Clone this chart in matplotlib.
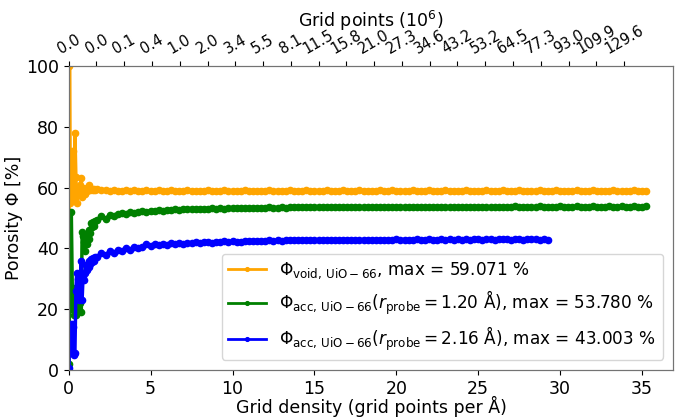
import numpy as np
import matplotlib
matplotlib.use("Agg")
import matplotlib.pyplot as plt

# grid density values (grid points per Å)
x_early = [0.02, 0.05, 0.10, 0.16, 0.22, 0.27, 0.33, 0.38, 0.44, 0.49,
           0.55, 0.60, 0.66, 0.71, 0.77, 0.82, 0.88, 0.93, 0.99, 1.04,
           1.10, 1.15, 1.21, 1.26, 1.32, 1.37, 1.43, 1.48, 1.54, 1.59]
x_late = np.arange(1.75, 35.3, 0.25)

void_early = [25, 100, 55, 72, 60, 72, 56, 78, 63.5, 55,
              60, 58, 57.5, 61, 63, 57, 60, 59.5, 58, 59.5,
              59, 60.2, 60.7, 59.8, 59.3, 59.6, 59.4, 59.2, 59.4, 59.1]
void_late = [59.6, 59.1, 59.3, 58.8, 59.2, 59.0, 58.9, 59.2, 59.0, 59.1,
             58.9, 59.0, 59.1, 58.8, 59.0, 59.1, 59.0, 58.9, 59.1, 59.0,
             59.0, 58.9, 59.1, 59.0, 59.0, 58.9, 59.0, 59.1, 59.0, 59.0,
             59.0, 59.1, 59.0, 58.9, 59.0, 59.0, 59.1, 59.0, 59.0, 59.0,
             59.0, 59.0, 59.1, 59.0, 59.0, 59.0, 59.0, 59.1, 59.0, 59.0,
             59.0, 59.1, 59.0, 59.0, 59.0, 59.0, 59.1, 59.0, 59.0, 59.0,
             59.1, 59.0, 59.0, 59.0, 59.1, 59.0, 59.0, 59.0, 59.0, 59.1,
             59.0, 59.0, 59.1, 59.0, 59.0, 59.0, 59.0, 59.1, 59.0, 59.0,
             59.0, 59.1, 59.0, 59.0, 59.0, 59.1, 59.0, 59.0, 59.0, 59.0,
             59.1, 59.0, 59.0, 59.0, 59.0, 59.1, 59.0, 59.0, 59.0, 59.1,
             59.0, 59.0, 59.0, 59.1, 59.0, 59.0, 59.0, 59.0, 59.1, 59.0,
             59.0, 59.0, 59.1, 59.0, 59.0, 59.0, 59.0, 59.1, 59.0, 59.0,
             59.0, 59.1, 59.0, 59.0, 59.0, 59.0, 59.1, 59.0, 59.0, 59.0,
             59.0, 59.1, 59.0, 59.0, 59.0]

acc12_early = [2, 25, 20, 52, 27, 20, 18, 27, 18, 22,
               20, 25, 19.5, 22, 19, 45.5, 44, 42, 39, 43.8,
               41.5, 45, 43, 46, 45, 48.5, 47, 48.7, 47.5, 49]
acc12_late = [49.5, 50.6, 49.8, 51.0, 50.6, 51.4, 51.8, 51.3, 52.0, 51.7,
              52.0, 52.3, 51.9, 52.4, 52.2, 52.6, 52.4, 52.7, 52.6, 52.8,
              52.7, 52.9, 52.8, 53.0, 52.9, 53.1, 53.0, 53.0, 53.2, 53.1,
              53.2, 53.1, 53.3, 53.2, 53.3, 53.2, 53.4, 53.3, 53.3, 53.4,
              53.3, 53.4, 53.5, 53.4, 53.4, 53.5, 53.4, 53.5, 53.5, 53.5,
              53.5, 53.6, 53.5, 53.5, 53.6, 53.5, 53.6, 53.6, 53.5, 53.6,
              53.6, 53.5, 53.6, 53.6, 53.6, 53.7, 53.6, 53.6, 53.6, 53.6,
              53.6, 53.7, 53.6, 53.6, 53.7, 53.6, 53.6, 53.7, 53.6, 53.7,
              53.7, 53.6, 53.7, 53.7, 53.6, 53.7, 53.7, 53.7, 53.6, 53.7,
              53.7, 53.7, 53.7, 53.6, 53.7, 53.7, 53.7, 53.7, 53.7, 53.7,
              53.7, 53.7, 53.8, 53.7, 53.7, 53.7, 53.7, 53.7, 53.8, 53.7,
              53.7, 53.7, 53.7, 53.8, 53.7, 53.7, 53.7, 53.8, 53.7, 53.7,
              53.7, 53.8, 53.7, 53.7, 53.7, 53.8, 53.7, 53.7, 53.8, 53.7,
              53.7, 53.8, 53.7, 53.7, 53.8]

acc216_early = [0.5, 13, 15, 5.5, 15, 14, 5, 5.5, 26, 32,
                30, 23, 29, 31, 36, 23, 31, 29.5, 32, 34.5,
                33, 35, 34, 36, 35, 36.5, 35.5, 36.7, 36, 37]
acc216_late = [37.3, 38.5, 37.9, 39.0, 38.6, 39.5, 39.0, 40.0, 39.6, 40.3,
               40.1, 40.6, 41.4, 40.8, 41.6, 41.0, 41.4, 41.2, 41.7, 41.4,
               41.8, 41.5, 41.9, 41.7, 42.1, 41.8, 42.0, 42.2, 41.9, 42.2,
               42.0, 42.3, 42.1, 42.4, 42.2, 42.0, 42.4, 42.3, 42.5, 42.3,
               42.5, 42.4, 42.6, 42.5, 42.7, 42.4, 42.6, 42.7, 42.6, 42.8,
               42.6, 42.7, 42.8, 42.7, 42.8, 42.6, 42.8, 42.7, 42.9, 42.8,
               42.8, 42.9, 42.8, 42.9, 42.8, 42.9, 42.9, 42.8, 42.9, 42.9,
               42.9, 42.8, 42.9, 43.0, 42.9, 42.9, 42.8, 42.9, 43.0, 42.9,
               42.9, 43.0, 42.9, 42.9, 43.0, 42.9, 43.0, 42.9, 43.0, 42.9,
               43.0, 42.9, 43.0, 43.0, 42.9, 43.0, 43.0, 42.9, 43.0, 43.0,
               43.0, 42.9, 43.0, 43.0, 42.9, 43.0, 43.0, 43.0, 42.9, 43.0,
               42.9]

# top axis: total grid points in millions
top_labels = ["0.0", "0.0", "0.1", "0.4", "1.0", "2.0", "3.4", "5.5", "8.1",
              "11.5", "15.8", "21.0", "27.3", "34.6", "43.2", "53.2", "64.5",
              "77.3", "93.0", "109.9", "129.6"]

labels = [r"$\Phi_{\rm void,\,UiO-66}$, max = 59.071 %",
          r"$\Phi_{\rm acc,\,UiO-66}(r_{\rm probe} = 1.20$ Å), max = 53.780 %",
          r"$\Phi_{\rm acc,\,UiO-66}(r_{\rm probe} = 2.16$ Å), max = 43.003 %"]

x_all = np.concatenate([x_early, x_late])
series = [
    (x_all, void_early + void_late, "orange"),
    (x_all, acc12_early + acc12_late, "green"),
    (x_all[:len(acc216_early) + len(acc216_late)], acc216_early + acc216_late, "blue"),
]

fig = plt.figure(figsize=(6.8, 4.18), dpi=100)
ax = fig.add_axes([0.101, 0.115, 0.889, 0.727])

for (xs, ys, c), lab in zip(series, labels):
    ax.plot(xs, ys, "-o", color=c, lw=2.5, ms=4.5, label=lab)

ax.set_xlim(0, 36.9)
ax.set_ylim(0, 100)
ax.set_xticks([0, 5, 10, 15, 20, 25, 30, 35])
ax.set_yticks([0, 20, 40, 60, 80, 100])
ax.tick_params(labelsize=12.5)
ax.set_xlabel("Grid density (grid points per Å)", fontsize=12.5, labelpad=-1)
ax.set_ylabel("Porosity Φ [%]", fontsize=12.5, labelpad=2)
for s in ax.spines.values():
    s.set_color("0.45")

leg = ax.legend(loc="lower right", fontsize=12.2, handlelength=2.2,
                borderaxespad=0.6, labelspacing=0.45, markerscale=0.6)
for h in leg.get_lines():
    h.set_linewidth(2)

ax2 = ax.twiny()
ax2.set_xlim(ax.get_xlim())
top_pos = np.arange(len(top_labels)) * 1.695
ax2.set_xticks(top_pos)
ax2.set_xticklabels(top_labels, rotation=30, fontsize=10.5)
ax2.set_xlabel("Grid points ($10^6$)", fontsize=12.5, labelpad=-3)
for s in ax2.spines.values():
    s.set_color("0.45")

fig.savefig("out.png", dpi=100)
